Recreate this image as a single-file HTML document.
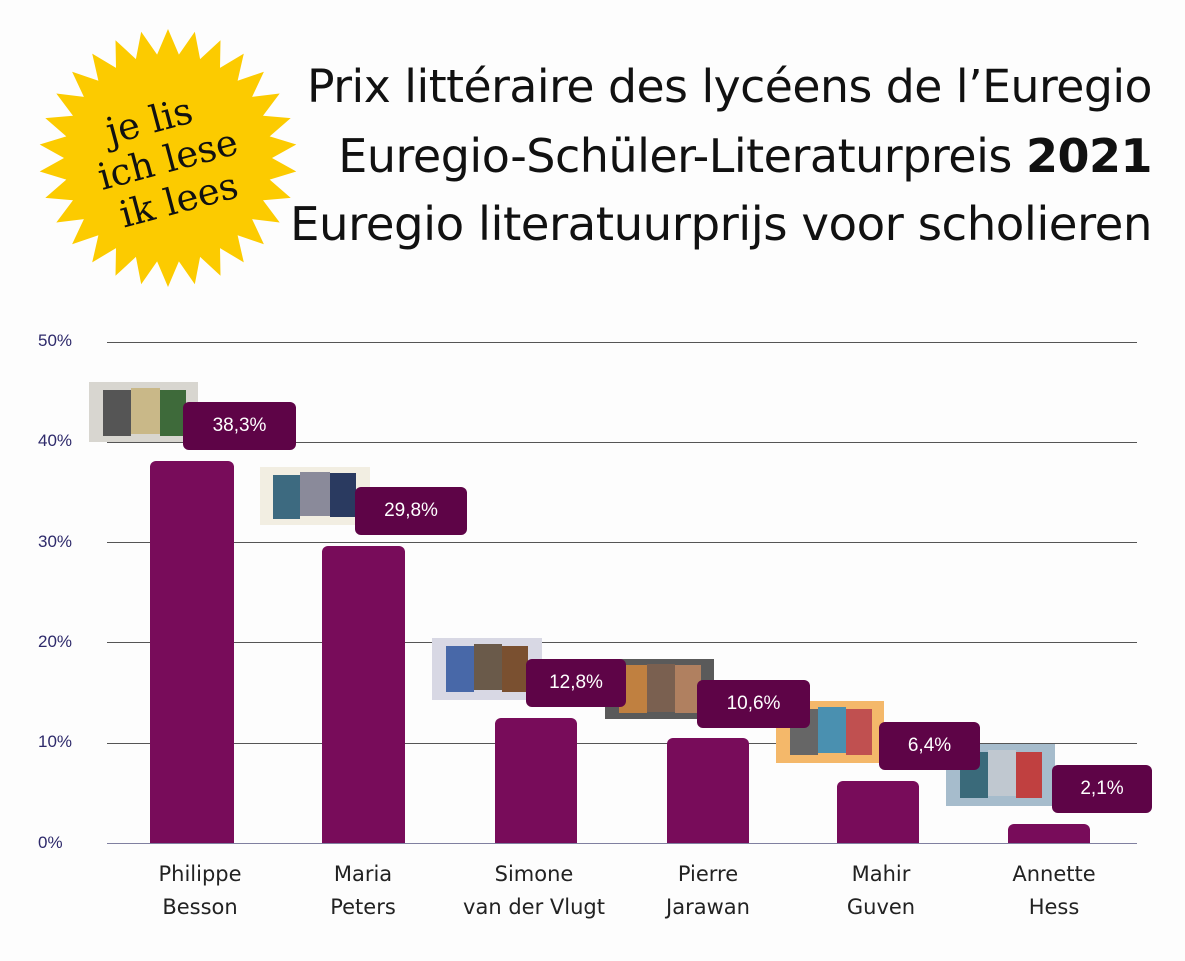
<!DOCTYPE html>
<html><head><meta charset="utf-8"><style>
body{margin:0;background:#fdfdfd;width:1185px;height:961px;position:relative;overflow:hidden;font-family:"Liberation Sans",sans-serif}
.t{position:absolute;right:33px;font-family:"DejaVu Sans","Liberation Sans",sans-serif;color:#111;white-space:nowrap;letter-spacing:-0.5px}
.yl{position:absolute;left:38px;font-size:17px;color:#2e2a6b}
.g{position:absolute;left:107px;width:1030px;height:1px;background:#555}
.bar{position:absolute;background:#780c5a;border-radius:6px 6px 0 0}
.lb{position:absolute;background:#5e0447;color:#fff;border-radius:6px;font-size:19px;text-align:center;line-height:48px;height:48px}
.xl{position:absolute;width:160px;text-align:center;font-size:21px;color:#222;line-height:33px;font-family:"DejaVu Sans",sans-serif}
.bk{position:absolute}
.bk i{position:absolute;display:block}
</style></head><body>
<svg style="position:absolute;left:0;top:0" width="340" height="300"><polygon id="st" fill="#fccb00"/>
<g transform="rotate(-15 168 160)" font-family="DejaVu Serif,Liberation Serif,serif" font-size="37" fill="#111" text-anchor="middle"><text x="160" y="130">je lis</text><text x="168" y="172">ich lese</text><text x="168" y="214">ik lees</text></g></svg>
<script>
var p=[],n=30,cx=168,cy=158;for(var i=0;i<2*n;i++){var r=i%2?104:129,a=Math.PI*i/n-Math.PI/2;p.push((cx+r*Math.cos(a)).toFixed(1)+','+(cy+r*Math.sin(a)).toFixed(1));}document.getElementById('st').setAttribute('points',p.join(' '));
</script>
<div class="t" style="top:60px;font-size:45.7px">Prix littéraire des lycéens de l’Euregio</div>
<div class="t" style="top:129px;font-size:46px">Euregio-Schüler-Literaturpreis <b>2021</b></div>
<div class="t" style="top:198px;font-size:46.7px">Euregio literatuurprijs voor scholieren</div>

<div class="g" style="top:342px"></div><div class="g" style="top:442px"></div><div class="g" style="top:542px"></div><div class="g" style="top:642px"></div><div class="g" style="top:743px"></div><div class="g" style="top:843px;background:#8080a0"></div>
<div class="yl" style="top:331px">50%</div><div class="yl" style="top:431px">40%</div><div class="yl" style="top:532px">30%</div><div class="yl" style="top:632px">20%</div><div class="yl" style="top:732px">10%</div><div class="yl" style="top:833px">0%</div>

<div class="bar" style="left:150px;width:84px;top:461px;height:382px"></div>
<div class="bar" style="left:322px;width:83px;top:546px;height:297px"></div>
<div class="bar" style="left:495px;width:82px;top:718px;height:125px"></div>
<div class="bar" style="left:667px;width:82px;top:738px;height:105px"></div>
<div class="bar" style="left:837px;width:82px;top:781px;height:62px"></div>
<div class="bar" style="left:1008px;width:82px;top:824px;height:19px"></div>

<div class="bk" style="left:89px;top:382px;width:109px;height:60px;background:#d8d6d0"><i style="left:14px;top:8px;width:28px;height:46px;background:#555"></i><i style="left:42px;top:6px;width:29px;height:46px;background:#c9b888"></i><i style="left:71px;top:8px;width:26px;height:46px;background:#3e6a3a"></i></div>
<div class="bk" style="left:260px;top:467px;width:110px;height:58px;background:#f2eee2"><i style="left:13px;top:8px;width:27px;height:44px;background:#3d6a80"></i><i style="left:40px;top:5px;width:30px;height:44px;background:#8a8a9a"></i><i style="left:70px;top:6px;width:26px;height:44px;background:#2a3a60"></i></div>
<div class="bk" style="left:432px;top:638px;width:110px;height:62px;background:#d8d8e4"><i style="left:14px;top:8px;width:28px;height:46px;background:#4868a8"></i><i style="left:42px;top:6px;width:28px;height:46px;background:#6a5a4a"></i><i style="left:70px;top:8px;width:26px;height:46px;background:#7a5030"></i></div>
<div class="bk" style="left:605px;top:659px;width:109px;height:60px;background:#5a5a5a"><i style="left:14px;top:6px;width:28px;height:48px;background:#c08040"></i><i style="left:42px;top:5px;width:28px;height:48px;background:#7a6050"></i><i style="left:70px;top:6px;width:26px;height:48px;background:#b08060"></i></div>
<div class="bk" style="left:776px;top:701px;width:108px;height:62px;background:#f4b86a"><i style="left:14px;top:8px;width:28px;height:46px;background:#666"></i><i style="left:42px;top:6px;width:28px;height:46px;background:#4a90b0"></i><i style="left:70px;top:8px;width:26px;height:46px;background:#c05050"></i></div>
<div class="bk" style="left:946px;top:744px;width:109px;height:62px;background:#a6bccc"><i style="left:14px;top:8px;width:28px;height:46px;background:#3a6a7a"></i><i style="left:42px;top:6px;width:28px;height:46px;background:#c0c8d0"></i><i style="left:70px;top:8px;width:26px;height:46px;background:#c04040"></i></div>

<div class="lb" style="left:183px;top:402px;width:113px">38,3%</div>
<div class="lb" style="left:355px;top:487px;width:112px">29,8%</div>
<div class="lb" style="left:526px;top:659px;width:100px">12,8%</div>
<div class="lb" style="left:697px;top:680px;width:113px">10,6%</div>
<div class="lb" style="left:879px;top:722px;width:101px">6,4%</div>
<div class="lb" style="left:1052px;top:765px;width:100px">2,1%</div>

<div class="xl" style="left:120px;top:858px">Philippe<br>Besson</div>
<div class="xl" style="left:283px;top:858px">Maria<br>Peters</div>
<div class="xl" style="left:454px;top:858px">Simone<br>van der Vlugt</div>
<div class="xl" style="left:628px;top:858px">Pierre<br>Jarawan</div>
<div class="xl" style="left:801px;top:858px">Mahir<br>Guven</div>
<div class="xl" style="left:974px;top:858px">Annette<br>Hess</div>
</body></html>
